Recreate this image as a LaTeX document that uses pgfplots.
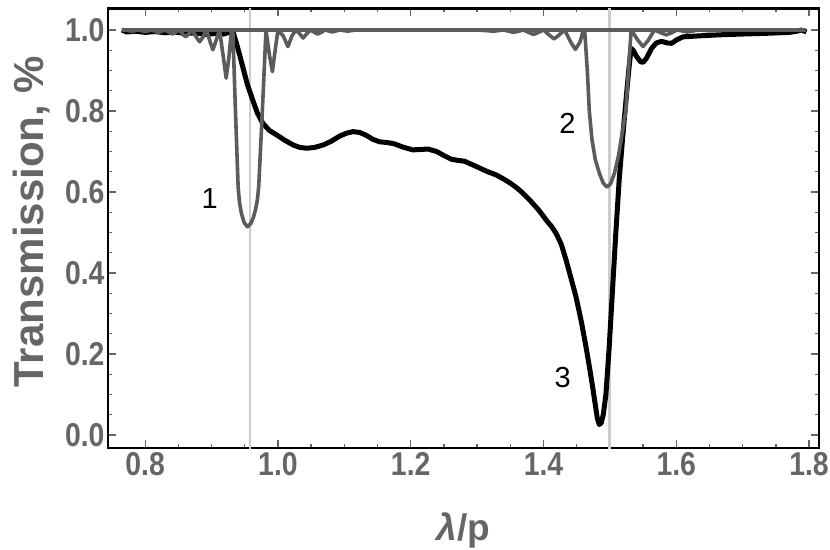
\documentclass[border=0pt]{standalone}
\usepackage{pgfplots}
\pgfplotsset{compat=1.18}
\usepackage{fontspec}
\setmainfont{Liberation Sans}
\newfontfamily\tickfont[FakeStretch=0.86]{Liberation Sans}
\definecolor{labgray}{gray}{0.4}
\definecolor{curvegray}{gray}{0.36}
\definecolor{vgray}{gray}{0.8}

\begin{document}
\begin{tikzpicture}
\begin{axis}[
    scale only axis,
    width=711pt, height=439.5pt,
    xmin=0.744, xmax=1.815,
    ymin=-0.032, ymax=1.053,
    xtick={0.8,1.0,1.2,1.4,1.6,1.8},
    ytick={0,0.2,0.4,0.6,0.8,1.0},
    minor x tick num=3, minor y tick num=3,
    /pgf/number format/.cd, fixed, fixed zerofill, precision=1, assume math mode=true,
    /pgfplots/.cd,
    axis line style={black, line width=2.2pt},
    major tick length=8pt, minor tick length=4pt,
    tick style={labgray, line width=1.3pt},
    ticklabel style={font=\tickfont\bfseries\fontsize{33}{33}\selectfont, text=labgray},
    xticklabel style={yshift=-1pt},
    xlabel={\textit{λ}/p},
    ylabel={Transmission, \%},
    xlabel style={font=\fontsize{37}{37}\selectfont\bfseries, text=labgray,
      at={(axis description cs:0.5,-0.188)}, anchor=center},
    ylabel style={font=\fontsize{42}{42}\selectfont\bfseries, text=labgray,
      at={(axis description cs:-0.108,0.515)}, anchor=center},
    clip=true,
]

% vertical guide lines
\addplot[vgray, line width=2.6pt] coordinates {(0.958,-0.1) (0.958,1.1)};
\addplot[vgray, line width=2.6pt] coordinates {(1.499,-0.1) (1.499,1.1)};

% curve 3 (black)
\addplot[black, line width=5pt, line join=round] coordinates {
 (0.765,1.0) (0.772,0.995) (0.785,0.997) (0.80,0.994) (0.815,0.996) (0.83,0.993)
 (0.845,0.995) (0.86,0.991) (0.875,0.993) (0.89,0.989) (0.905,0.991) (0.918,0.99)
 (0.928,0.995) (0.932,0.997) (0.937,0.97) (0.942,0.94) (0.947,0.909) (0.954,0.865)
 (0.962,0.827) (0.969,0.795) (0.977,0.770) (0.987,0.752) (0.998,0.741) (1.010,0.728)
 (1.023,0.716) (1.033,0.710) (1.043,0.708) (1.055,0.710) (1.068,0.716) (1.080,0.725)
 (1.093,0.738) (1.103,0.745) (1.113,0.749) (1.123,0.747) (1.133,0.740) (1.143,0.730)
 (1.153,0.724) (1.165,0.722) (1.175,0.719) (1.188,0.711) (1.203,0.704) (1.215,0.705)
 (1.226,0.706) (1.239,0.700) (1.250,0.690) (1.261,0.681) (1.271,0.678) (1.281,0.676)
 (1.292,0.668) (1.304,0.659) (1.316,0.650) (1.329,0.642) (1.340,0.632) (1.349,0.623)
 (1.360,0.610) (1.369,0.597) (1.381,0.577) (1.393,0.555) (1.404,0.531) (1.412,0.515)
 (1.419,0.498) (1.427,0.470) (1.434,0.432) (1.441,0.390) (1.449,0.341) (1.457,0.280)
 (1.464,0.218) (1.470,0.160) (1.474,0.119) (1.478,0.075) (1.481,0.042) (1.484,0.026)
 (1.487,0.030) (1.490,0.050) (1.494,0.100) (1.499,0.218) (1.504,0.360) (1.509,0.500)
 (1.514,0.630) (1.519,0.730) (1.525,0.840) (1.529,0.910) (1.532,0.955) (1.535,0.950)
 (1.540,0.935) (1.546,0.922) (1.550,0.920) (1.555,0.930) (1.563,0.955) (1.570,0.968)
 (1.578,0.972) (1.586,0.968) (1.593,0.967) (1.600,0.975) (1.610,0.983) (1.630,0.985)
 (1.665,0.988) (1.700,0.990) (1.740,0.992) (1.770,0.994) (1.782,0.997) (1.788,1.0)
 (1.792,0.998) (1.796,0.995)
};

% curve 1 (gray, resonance near 0.96)
\addplot[curvegray, line width=3.6pt, line join=round] coordinates {
 (0.765,1) (0.770,1) (0.780,0.997) (0.790,1) (0.800,0.996) (0.810,1) (0.820,0.994)
 (0.830,1) (0.841,0.990) (0.851,1) (0.857,0.989) (0.861,0.983) (0.865,0.989) (0.871,1)
 (0.877,0.982) (0.882,0.971) (0.887,0.982) (0.892,1) (0.898,0.970) (0.902,0.951)
 (0.906,0.970) (0.912,1) (0.918,0.930) (0.922,0.881) (0.926,0.930) (0.930,1)
 (0.932,1) (0.936,0.800) (0.940,0.613) (0.942,0.575) (0.945,0.547) (0.949,0.525)
 (0.954,0.514) (0.959,0.522) (0.963,0.537) (0.966,0.555) (0.969,0.580) (0.971,0.613)
 (0.9765,0.800) (0.982,1) (0.987,0.940) (0.9916,0.897) (0.995,0.940) (1.000,1)
 (1.008,0.985) (1.015,0.959) (1.021,0.985) (1.027,1) (1.033,0.990) (1.038,0.980)
 (1.043,0.990) (1.049,1) (1.055,0.994) (1.060,0.990) (1.065,0.994) (1.071,1)
 (1.082,0.995) (1.093,1) (1.105,0.997) (1.117,1) (1.795,1)
};

% curve 2 (gray, resonance near 1.5)
\addplot[curvegray, line width=3.6pt, line join=round] coordinates {
 (0.765,1) (1.300,1) (1.325,0.997) (1.340,1) (1.355,0.994) (1.370,1) (1.379,0.993)
 (1.385,0.989) (1.391,0.993) (1.400,1) (1.409,0.987) (1.416,0.978) (1.423,0.987)
 (1.432,1) (1.441,0.970) (1.448,0.952) (1.455,0.970) (1.460,1) (1.462,1)
 (1.466,0.900) (1.469,0.800) (1.473,0.730) (1.478,0.680) (1.484,0.647) (1.490,0.622)
 (1.4955,0.612) (1.501,0.620) (1.507,0.647) (1.513,0.690) (1.519,0.750) (1.524,0.800)
 (1.528,0.900) (1.532,1) (1.542,0.975) (1.550,0.959) (1.558,0.975) (1.567,1)
 (1.577,0.993) (1.585,0.988) (1.593,0.993) (1.601,1) (1.617,0.995) (1.633,1)
 (1.650,0.998) (1.667,1) (1.795,1)
};

\node[font=\fontsize{29}{29}\selectfont] at (axis cs:0.897,0.585) {1};
\node[font=\fontsize{29}{29}\selectfont] at (axis cs:1.436,0.770) {2};
\node[font=\fontsize{29}{29}\selectfont] at (axis cs:1.429,0.143) {3};
\end{axis}
\pgfresetboundingbox
\path[use as bounding box] ([shift={(-108pt,-101pt)}]current axis.south west)
  rectangle ([shift={(11pt,8.5pt)}]current axis.north east);
\end{tikzpicture}
\end{document}
